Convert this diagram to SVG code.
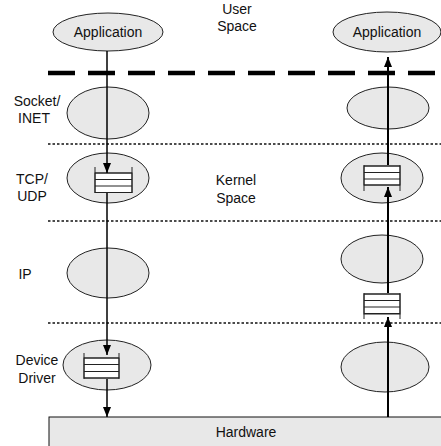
<svg xmlns="http://www.w3.org/2000/svg" width="441" height="446" viewBox="0 0 441 446">
<style>
text{font-family:"Liberation Sans",Arial,sans-serif;font-size:14px;fill:#111}
.el{fill:#e8e8e8;stroke:#222;stroke-width:1}
.q{fill:#fff;stroke:#222;stroke-width:1}
.ql{stroke:#222;stroke-width:1;fill:none}
.dot{stroke:#111;stroke-width:1.5;stroke-dasharray:2.5 2}
.dash{stroke:#000;stroke-width:4.5;stroke-dasharray:27 13}
.cl{stroke:#000;stroke-width:1.5;fill:none}
.cr{stroke:#000;stroke-width:2;fill:none}
</style>
<defs>
<marker id="ah" markerUnits="userSpaceOnUse" markerWidth="10" markerHeight="8" refX="10" refY="4" orient="auto">
<path d="M0,0 L10,4 L0,8 z" fill="#000"/>
</marker>
</defs>
<g id="layers">
<line class="dash" x1="48" y1="73" x2="441" y2="73"/>
<line class="dot" x1="48" y1="144" x2="441" y2="144"/>
<line class="dot" x1="48" y1="221" x2="441" y2="221"/>
<line class="dot" x1="48" y1="323" x2="441" y2="323"/>
<text x="237" y="14" text-anchor="middle">User</text>
<text x="237" y="31" text-anchor="middle">Space</text>
<text x="236" y="185" text-anchor="middle">Kernel</text>
<text x="236" y="203" text-anchor="middle">Space</text>
<text x="37" y="106" text-anchor="middle">Socket/</text>
<text x="34" y="123" text-anchor="middle">INET</text>
<text x="32" y="184" text-anchor="middle">TCP/</text>
<text x="32" y="201" text-anchor="middle">UDP</text>
<text x="25" y="279" text-anchor="middle">IP</text>
<text x="37" y="365" text-anchor="middle">Device</text>
<text x="37" y="383" text-anchor="middle">Driver</text>
</g>
<g id="hardware">
<rect x="49" y="417" width="400" height="40" fill="#e8e8e8" stroke="#111" stroke-width="1"/>
<text x="246" y="437" text-anchor="middle">Hardware</text>
</g>
<g id="app-left">
<ellipse class="el" cx="108" cy="32" rx="55" ry="19"/>
<text x="108" y="37" text-anchor="middle">Application</text>
</g>
<g id="app-right">
<ellipse class="el" cx="387" cy="32" rx="54" ry="20"/>
<text x="387" y="37" text-anchor="middle">Application</text>
</g>
<g id="socket-left"><ellipse class="el" cx="108" cy="113" rx="41" ry="26"/></g>
<g id="socket-right"><ellipse class="el" cx="388" cy="108" rx="41" ry="21"/></g>
<g id="tcp-left">
<ellipse class="el" cx="108" cy="178" rx="41" ry="25"/>
<rect class="q" x="95" y="173" width="37" height="19.5" stroke="none"/>
<path class="ql" d="M95,167V193M132,167V193M95,173H132M95,179.5H132M95,186H132M95,192.5H132"/>
</g>
<g id="tcp-right">
<ellipse class="el" cx="382" cy="178" rx="41" ry="25"/>
<rect class="q" x="364" y="166" width="36" height="19" stroke="none"/>
<path class="ql" d="M364,165V191M400,165V191M364,166H400M364,172.5H400M364,179H400M364,185H400"/>
</g>
<g id="ip-left"><ellipse class="el" cx="108" cy="273" rx="41" ry="25"/></g>
<g id="ip-right"><ellipse class="el" cx="382" cy="259" rx="41" ry="24"/></g>
<g id="queue-right">
<rect class="q" x="364" y="294" width="36" height="20" stroke="none"/>
<path class="ql" d="M364,293V319M400,293V319M364,294H400M364,300.5H400M364,307H400M364,313.5H400"/>
</g>
<g id="dd-left">
<ellipse class="el" cx="107" cy="365" rx="44" ry="25"/>
<rect class="q" x="84" y="358" width="35" height="20" stroke="none"/>
<path class="ql" d="M84,353V379M119,353V379M84,358H119M84,364.5H119M84,371.5H119M84,378H119"/>
</g>
<g id="dd-right"><ellipse class="el" cx="385" cy="367" rx="44" ry="25"/></g>
<g id="connectors">
<line class="cl" x1="107" y1="51" x2="107" y2="173" marker-end="url(#ah)"/>
<line class="cl" x1="107" y1="193" x2="107" y2="355" marker-end="url(#ah)"/>
<line class="cl" x1="107" y1="379" x2="107" y2="417" marker-end="url(#ah)"/>
<line class="cr" x1="388" y1="417" x2="388" y2="317" marker-end="url(#ah)"/>
<line class="cr" x1="388" y1="293" x2="388" y2="187" marker-end="url(#ah)"/>
<line class="cr" x1="388" y1="165" x2="388" y2="57" marker-end="url(#ah)"/>
</g>
</svg>
